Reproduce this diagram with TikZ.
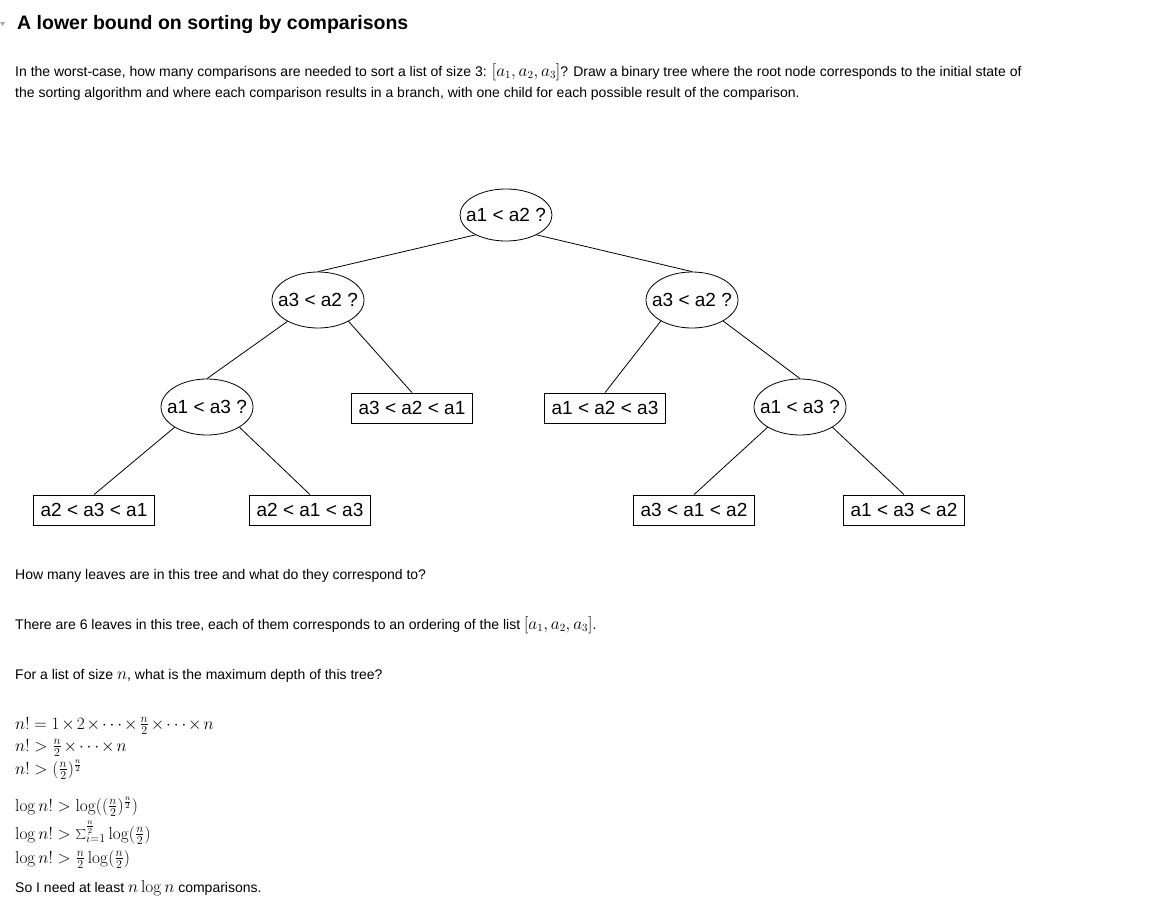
\documentclass[tikz,border=0pt]{standalone}
\usepackage[no-math]{fontspec}
\setmainfont{Liberation Sans}
\newfontfamily\bodyfont{Liberation Sans}
\newcommand{\mm}[1]{{\fontsize{16}{16}\selectfont$#1$}}
\newcommand{\tightm}{\medmuskip=2mu\relax}
\usetikzlibrary{shapes.geometric}
\begin{document}
\begin{tikzpicture}[x=1pt,y=-1pt,
  qnode/.style={ellipse, draw, line width=0.8pt, inner sep=0pt,
    font=\fontsize{19}{22}\selectfont, minimum width=92pt, minimum height=56pt},
  leaf/.style={rectangle, draw, line width=0.8pt, inner sep=0pt,
    font=\fontsize{19}{22}\selectfont, minimum width=121pt, minimum height=30pt},
  edge/.style={line width=0.8pt},
  txt/.style={anchor=base west, inner sep=0pt, font=\bodyfont\fontsize{14}{16}\selectfont},
  mth/.style={anchor=base west, inner sep=0pt, font=\fontsize{16.5}{19}\selectfont\tightm},
]
\useasboundingbox (0,0) rectangle (1167,921);

% collapse mark
\fill[gray!70] (0,22) -- (5,22) -- (2.5,26) -- cycle;
\node[txt, font=\bodyfont\bfseries\fontsize{19.5}{24}\selectfont] (title) at (17,29) {A lower bound on sorting by comparisons};

\node[txt] (p1) at (15,76) {In the worst-case, how many comparisons are needed to sort a list of size 3: \mm{[a_1, a_2, a_3]}? Draw a binary tree where the root node corresponds to the initial state of};
\node[txt] (p2) at (15,97) {the sorting algorithm and where each comparison results in a branch, with one child for each possible result of the comparison.};

% tree
\node[qnode, minimum height=52pt] (root) at (506,215) {\makebox[0pt]{a1 < a2 ?}};
\node[qnode] (l) at (318,300) {\makebox[0pt]{a3 < a2 ?}};
\node[qnode] (r) at (692,300) {\makebox[0pt]{a3 < a2 ?}};
\node[qnode] (ll) at (207,407) {\makebox[0pt]{a1 < a3 ?}};
\node[leaf] (lr) at (412,408) {a3 < a2 < a1};
\node[leaf] (rl) at (605,408) {a1 < a2 < a3};
\node[qnode] (rr) at (800,407) {\makebox[0pt]{a1 < a3 ?}};
\node[leaf] (lll) at (94,510) {a2 < a3 < a1};
\node[leaf] (llr) at (310,510) {a2 < a1 < a3};
\node[leaf] (rrl) at (694,510) {a3 < a1 < a2};
\node[leaf] (rrr) at (904,510) {a1 < a3 < a2};

\draw[edge] (root.213) -- (l.north);
\draw[edge] (root.327) -- (r.north);
\draw[edge] (l.215) -- (ll.north);
\draw[edge] (l.325) -- (lr.north);
\draw[edge] (r.214) -- (rl.north);
\draw[edge] (r.326) -- (rr.north);
\draw[edge] (ll.212) -- (lll.north);
\draw[edge] (ll.328) -- (llr.north);
\draw[edge] (rr.212) -- (rrl.north);
\draw[edge] (rr.328) -- (rrr.north);

\node[txt] (q1) at (15,579) {How many leaves are in this tree and what do they correspond to?};
\node[txt] (a1) at (15,629) {There are 6 leaves in this tree, each of them corresponds to an ordering of the list \mm{[a_1, a_2, a_3]}.};
\node[txt] (q2) at (15,679) {For a list of size \mm{n}, what is the maximum depth of this tree?};

\node[mth] (m1) at (15,729) {$n! = 1 \times 2 \times \cdots \times \frac{n}{2} \times \cdots \times n$};
\node[mth] (m2) at (15,751) {$n! > \frac{n}{2} \times \cdots \times n$};
\node[mth] (m3) at (15,774) {$n! > (\frac{n}{2})^{\frac{n}{2}}$};
\node[mth] (m4) at (15,811) {$\log n! > \log((\frac{n}{2})^{\frac{n}{2}})$};
\node[mth] (m5) at (15,839) {$\log n! > \sum_{i=1}^{\frac{n}{2}} \log(\frac{n}{2})$};
\node[mth] (m6) at (15,863) {$\log n! > \frac{n}{2}\log(\frac{n}{2})$};
\node[txt] (c1) at (15,892) {So I need at least \mm{n \log n} comparisons.};
\end{tikzpicture}
\end{document}
